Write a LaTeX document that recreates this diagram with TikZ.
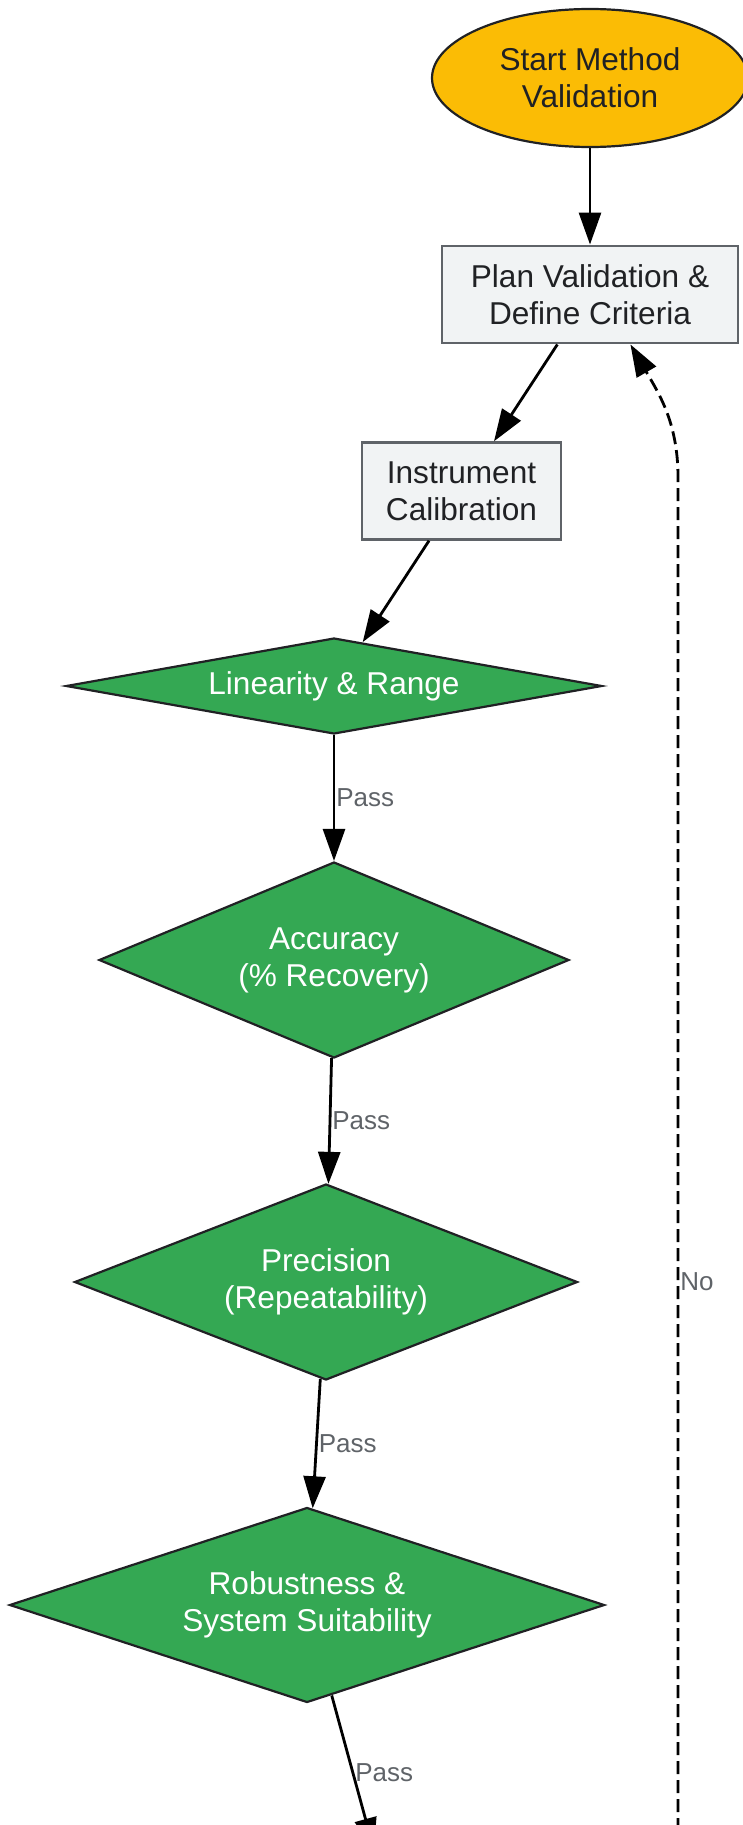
\documentclass[tikz,border=0pt]{standalone}
\usepackage{fontspec}
\setmainfont{Liberation Sans}
\usetikzlibrary{shapes.geometric,arrows.meta}
\definecolor{startfill}{HTML}{FBBC05}
\definecolor{stepfill}{HTML}{F1F3F4}
\definecolor{stepline}{HTML}{5F6368}
\definecolor{testfill}{HTML}{34A853}
\definecolor{inktext}{HTML}{202124}
\definecolor{edgetext}{HTML}{5F6368}
\begin{document}
\begin{tikzpicture}[x=0.5pt, y=-0.5pt,
	nodetext/.style={font=\fontsize{15.8}{18.5}\selectfont, align=center, inner sep=0pt},
	startnode/.style={nodetext, ellipse, draw=inktext, line width=1.1pt, fill=startfill, text=inktext, minimum width=158pt, minimum height=69pt},
	stepbox/.style={nodetext, rectangle, draw=stepline, line width=1.2pt, fill=stepfill, text=inktext},
	testnode/.style={nodetext, diamond, draw=inktext, line width=1.1pt, fill=testfill, text=white},
	flow/.style={-{Triangle[length=16pt,width=11pt]}, line width=1.4pt},
	edgelabel/.style={font=\fontsize{13}{15}\selectfont, text=edgetext, anchor=west, inner sep=0.5pt}]
				\useasboundingbox (0,0) rectangle (743,1825);
				\clip (0,0) rectangle (743,1825);
				
				\node[startnode](start) at (590,78) {Start Method\\Validation};
				\node[stepbox, minimum width=148pt, minimum height=48.75pt](plan) at (590,294.5) {Plan Validation \&\\Define Criteria};
				\node[stepbox, minimum width=99.5pt, minimum height=48.5pt](calib) at (461.5,491) {Instrument\\Calibration};
				
				\node[testnode, minimum width=268pt, minimum height=48pt, aspect=5.58](linear) at (334,686) {Linearity \& Range};
				\node[testnode, minimum width=235pt, minimum height=98pt, aspect=2.4](accur) at (334,960) {Accuracy\\(\% Recovery)};
				\node[testnode, minimum width=251.5pt, minimum height=98pt, aspect=2.57](precis) at (326,1282) {Precision\\(Repeatability)};
				\node[testnode, minimum width=297.5pt, minimum height=97.5pt, aspect=3.05](robust) at (307,1605) {Robustness \&\\System Suitability};
				
				\coordinate[](next) at (374,1850);
				\coordinate[](fail) at (678,1850);
				\coordinate[](turn) at (678,477);
				
				\draw[flow] (start) -- (plan);
				\draw[flow] (plan) -- (calib);
				\draw[flow] (calib) -- (linear);
				\draw[flow] (linear) -- node[edgelabel, midway]{Pass} (accur);
				\draw[flow] (accur) -- node[edgelabel, midway]{Pass} (precis);
				\draw[flow] (precis) -- node[edgelabel, midway]{Pass} (robust);
				\draw[flow] (robust) -- node[edgelabel, midway]{Pass} (next);
				
				\draw[flow, dash pattern=on 6.5pt off 3pt] (fail) -- node[edgelabel, pos=0.414]{No} (turn) to[out=90, in=-60] (plan.-51.5);
\end{tikzpicture}
\end{document}
